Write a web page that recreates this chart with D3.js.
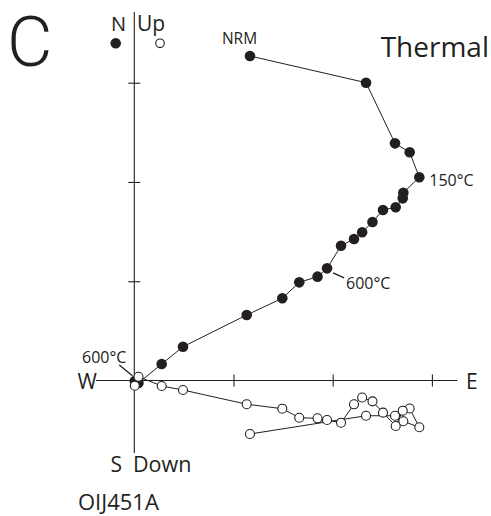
<!DOCTYPE html>
<html>
<head>
<meta charset="utf-8">
<script src="https://cdn.jsdelivr.net/npm/d3@7"></script>
<style>
  body { margin: 0; background: #fff; }
  svg text { font-family: "Open Sans", "Noto Sans", sans-serif; fill: #231f20; }
</style>
</head>
<body>
<div id="chart"></div>
<script>
// ── Demagnetization steps (Zijderveld, units = tick spacing) ──
const east = [1.166, 2.336, 2.628, 2.776, 2.873, 2.712, 2.706, 2.635, 2.507, 2.401,
              2.297, 2.215, 2.084, 1.943, 1.847, 1.663, 1.492, 1.133, 0.491, 0.276,
              0.042, 0.005];
const north = [3.269, 3.000, 2.389, 2.299, 2.047, 1.892, 1.835, 1.745, 1.718, 1.597,
               1.493, 1.425, 1.358, 1.130, 1.046, 0.989, 0.828, 0.660, 0.340, 0.166,
               -0.025, -0.005];
const up = [-0.539, -0.355, -0.355, -0.282, -0.471, -0.411, -0.304, -0.458, -0.324, -0.210,
            -0.171, -0.240, -0.425, -0.398, -0.381, -0.375, -0.284, -0.239, -0.096, -0.055,
            0.038, -0.053];
const tickValues = [1, 2, 3];
const stepLabels = [
    { i: 0, text: 'NRM' },
    { i: 4, text: '150°C' },
    { i: 13, text: '600°C' },
    { i: 20, text: '600°C' }
];

const W = 491, H = 516;
const ink = '#231f20';

const svg = d3.select('#chart').append('svg')
    .attr('width', W)
    .attr('height', H);

const x = d3.scaleLinear().domain([0, 3]).range([134.3, 431.9]);
const y = d3.scaleLinear().domain([0, 3]).range([380.5, 82.7]);

// axes lines
svg.append('line')
    .attr('x1', x(-0.386)).attr('x2', x(3.256))
    .attr('y1', y(0)).attr('y2', y(0))
    .attr('stroke', ink).attr('stroke-width', 1.1);
svg.append('line')
    .attr('x1', x(0)).attr('x2', x(0))
    .attr('y1', y(3.712)).attr('y2', y(-0.731))
    .attr('stroke', ink).attr('stroke-width', 1.1);

// cross ticks
const xAxis = svg.append('g')
    .attr('transform', `translate(0,${y(0) - 6})`)
    .call(d3.axisBottom(x).tickValues(tickValues).tickSize(12).tickFormat(''));
const yAxis = svg.append('g')
    .attr('transform', `translate(${x(0) + 6},0)`)
    .call(d3.axisLeft(y).tickValues(tickValues).tickSize(12).tickFormat(''));
[xAxis, yAxis].forEach(g => {
    g.select('.domain').remove();
    g.selectAll('line').attr('stroke', ink).attr('stroke-width', 1.1);
});

const idx = d3.range(east.length);

// horizontal projection (N vs E) — filled
const lineH = d3.line().x(i => x(east[i])).y(i => y(north[i]));
svg.append('path')
    .attr('d', lineH(idx))
    .attr('fill', 'none').attr('stroke', ink).attr('stroke-width', 1);
svg.append('g').selectAll('circle')
    .data(idx).enter().append('circle')
    .attr('cx', i => x(east[i]))
    .attr('cy', i => y(north[i]))
    .attr('r', 5.3)
    .attr('fill', ink);

// vertical projection (Up vs E) — open
const lineV = d3.line().x(i => x(east[i])).y(i => y(up[i]));
svg.append('path')
    .attr('d', lineV(idx))
    .attr('fill', 'none').attr('stroke', ink).attr('stroke-width', 1);
svg.append('g').selectAll('circle')
    .data(idx).enter().append('circle')
    .attr('cx', i => x(east[i]))
    .attr('cy', i => y(up[i]))
    .attr('r', 4.5)
    .attr('fill', '#fff')
    .attr('stroke', ink).attr('stroke-width', 1.1);

// step labels
const lbl = (i, dx, dy, size, text) => svg.append('text')
    .attr('x', x(east[i]) + dx).attr('y', y(north[i]) + dy)
    .style('font-size', size + 'px').text(text);
lbl(stepLabels[0].i, -28, -12, 15.5, stepLabels[0].text);
lbl(stepLabels[1].i, 10, 8.5, 16, stepLabels[1].text);
lbl(stepLabels[2].i, 19, 20.5, 16, stepLabels[2].text);
svg.append('line')
    .attr('x1', x(east[13]) + 6).attr('y1', y(north[13]) + 4.5)
    .attr('x2', x(east[13]) + 17).attr('y2', y(north[13]) + 9.5)
    .attr('stroke', ink).attr('stroke-width', 1.3);
svg.append('text')
    .attr('x', 82).attr('y', 362.5)
    .style('font-size', 16 + 'px').text(stepLabels[3].text);
svg.append('line')
    .attr('x1', 119.3).attr('y1', 365)
    .attr('x2', x(east[20]) - 6).attr('y2', y(up[20]) - 1)
    .attr('stroke', ink).attr('stroke-width', 1.3);

// legend dots
svg.append('circle').attr('cx', 115.7).attr('cy', 43.3).attr('r', 5.3).attr('fill', ink);
svg.append('circle').attr('cx', 160).attr('cy', 43.3).attr('r', 4.3)
    .attr('fill', '#fff').attr('stroke', ink).attr('stroke-width', 1.1);

// axis labels
const txt = (tx, ty, size, text, anchor) => svg.append('text')
    .attr('x', tx).attr('y', ty)
    .attr('text-anchor', anchor || 'start')
    .style('font-size', size + 'px').text(text);
txt(7, 65.5, 70, 'C')
    .style('font-family', 'Roboto, sans-serif')
    .style('font-weight', 300);
txt(126, 30.5, 20, 'N', 'end');
txt(137, 30.5, 21, 'Up');
txt(489, 56.5, 28, 'Thermal', 'end');
txt(97, 388.5, 21, 'W', 'end');
txt(466, 389, 21, 'E');
txt(122, 471.5, 21, 'S', 'end');
txt(133, 471.5, 21.5, 'Down');
txt(78, 509.5, 22, 'OIJ451A');
</script>
</body>
</html>
